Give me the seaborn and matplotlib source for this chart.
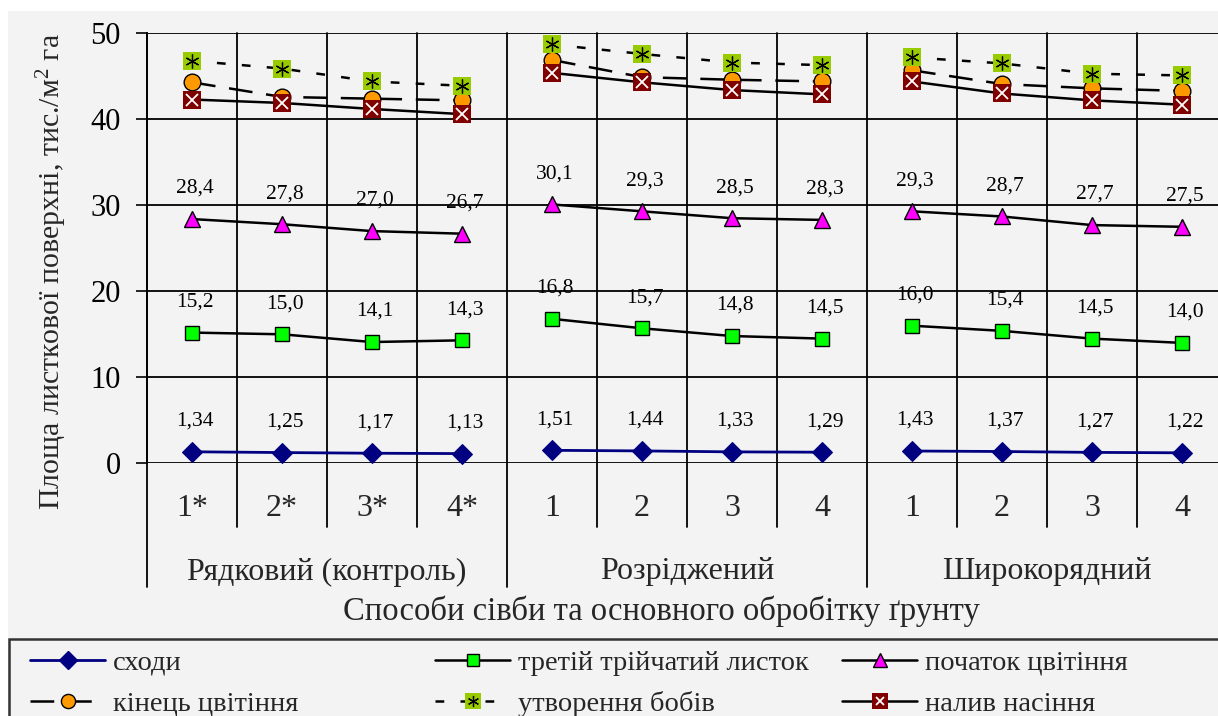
import numpy as np
import pandas as pd
import matplotlib
matplotlib.use("Agg")
import matplotlib.pyplot as plt
import seaborn as sns
from matplotlib.lines import Line2D
from matplotlib.patches import Rectangle
import matplotlib.transforms as mtransforms

groups = ["Рядковий (контроль)", "Розріджений", "Широкорядний"]
categories = ["1*", "2*", "3*", "4*", "1", "2", "3", "4", "1", "2", "3", "4"]

shoots = [1.34, 1.25, 1.17, 1.13, 1.51, 1.44, 1.33, 1.29, 1.43, 1.37, 1.27, 1.22]
third_leaf = [15.2, 15.0, 14.1, 14.3, 16.8, 15.7, 14.8, 14.5, 16.0, 15.4, 14.5, 14.0]
flower_start = [28.4, 27.8, 27.0, 26.7, 30.1, 29.3, 28.5, 28.3, 29.3, 28.7, 27.7, 27.5]
flower_end = [44.3, 42.6, 42.4, 42.2, 46.9, 44.9, 44.6, 44.4, 45.7, 44.1, 43.6, 43.3]
pods = [46.8, 45.9, 44.4, 43.9, 48.7, 47.6, 46.6, 46.3, 47.2, 46.5, 45.3, 45.1]
seed_fill = [42.3, 41.9, 41.2, 40.6, 45.4, 44.3, 43.4, 42.9, 44.4, 43.0, 42.2, 41.7]

series_names = ["сходи", "третій трійчатий листок", "початок цвітіння",
                "кінець цвітіння", "утворення бобів", "налив насіння"]
series_values = [shoots, third_leaf, flower_start, flower_end, pods, seed_fill]

rows = []
for name, vals in zip(series_names, series_values):
    for i, v in enumerate(vals):
        rows.append({"series": name, "pos": i, "group": i // 4, "value": v})
df = pd.DataFrame(rows)

sns.set_theme(style="white")
plt.rcParams["font.family"] = ["Liberation Serif", "DejaVu Serif"]
plt.rcParams["mathtext.fontset"] = "custom"
plt.rcParams["mathtext.rm"] = "Liberation Serif"
plt.rcParams["mathtext.it"] = "Liberation Serif:italic"

W, H = 1218, 716
fig = plt.figure(figsize=(W / 100, H / 100), dpi=100)
fig.patch.set_facecolor("white")
bg = "#f3f3f3"
fig.patches.append(Rectangle((8 / W, 0), 1, 1 - 11 / H, transform=fig.transFigure,
                             facecolor=bg, edgecolor="none", zorder=-10))

y0_px, y50_px = 463.3, 33.3
ax = fig.add_axes([147 / W, 1 - y0_px / H, 1080 / W, (y0_px - y50_px) / H])
ax.set_facecolor(bg)

styles = {
    "сходи": dict(color="#000080", marker="D", markersize=10.5, markerfacecolor="#000080",
                  markeredgecolor="#000080", linewidth=2, linestyle="-"),
    "третій трійчатий листок": dict(color="black", marker="s", markersize=10.5,
                                    markerfacecolor="#00ff00", markeredgecolor="black",
                                    markeredgewidth=1, linewidth=1.8, linestyle="-"),
    "початок цвітіння": dict(color="black", marker="^", markersize=11.5,
                             markerfacecolor="#ff00ff", markeredgecolor="black",
                             markeredgewidth=1, linewidth=1.8, linestyle="-"),
    "кінець цвітіння": dict(color="black", marker="o", markersize=12,
                            markerfacecolor="#ff9900", markeredgecolor="black",
                            markeredgewidth=1, linewidth=1.8, linestyle=(0, (9.5, 5.5))),
    "утворення бобів": dict(color="black", marker="s", markersize=13.5,
                            markerfacecolor="#99cc00", markeredgecolor="#99cc00",
                            markeredgewidth=0, linewidth=1.8, linestyle=(0, (3.5, 6.5))),
    "налив насіння": dict(color="black", marker="s", markersize=13.5,
                          markerfacecolor="#800000", markeredgecolor="#800000",
                          markeredgewidth=0, linewidth=1.8, linestyle="-"),
}
overlay = {
    "утворення бобів": dict(marker=(6, 2, 0), markersize=10, color="black", markeredgewidth=0.9),
    "налив насіння": dict(marker="x", markersize=8, color="white", markeredgewidth=1.3),
}

for k, name in enumerate(series_names):
    for g in range(3):
        sub = df[(df["series"] == name) & (df["group"] == g)]
        sns.lineplot(data=sub, x="pos", y="value", ax=ax, zorder=3 + k,
                     clip_on=False, **styles[name])
        if name in overlay:
            ax.plot(sub["pos"], sub["value"], linestyle="none", zorder=3 + k,
                    clip_on=False, **overlay[name])

# data labels for the lower three series
for name, vals, fmt in [("сходи", shoots, "{:.2f}"),
                        ("третій трійчатий листок", third_leaf, "{:.1f}"),
                        ("початок цвітіння", flower_start, "{:.1f}")]:
    for i, v in enumerate(vals):
        ax.annotate(fmt.format(v).replace(".", ","), (i, v), xytext=(2, 22),
                    textcoords="offset points", ha="center", va="center",
                    fontsize=15.5, color="black")

ax.set_xlim(-0.5, 11.5)
ax.set_ylim(0, 50)
ax.set_yticks([0, 10, 20, 30, 40, 50])
ax.set_xticks([])
ax.tick_params(axis="y", which="both", left=True, length=8, width=1.2, pad=11,
               labelsize=22, colors="black")
ax.grid(axis="y", color="black", linewidth=1.3)
ax.set_axisbelow(True)
for s in ["top", "right", "bottom"]:
    ax.spines[s].set_visible(False)
ax.spines["left"].set_color("black")
ax.spines["left"].set_linewidth(1.3)
ax.set_xlabel("")
ax.set_ylabel("")

trans = mtransforms.blended_transform_factory(ax.transData, ax.transAxes)
bot_cat = -(527 - y0_px) / (y0_px - y50_px)
bot_grp = -(587 - y0_px) / (y0_px - y50_px)
for b in np.arange(-0.5, 12, 1.0):
    low = bot_grp if (b + 0.5) % 4 == 0 else bot_cat
    ax.plot([b, b], [low, 1], color="black", linewidth=1.3, transform=trans,
            clip_on=False, zorder=1)

cat_y = -(509 - y0_px) / (y0_px - y50_px)
for i, c in enumerate(categories):
    ax.text(i, cat_y, c, transform=trans, ha="center", va="center", fontsize=23)
grp_y = -(572 - y0_px) / (y0_px - y50_px)
for g, gname in enumerate(groups):
    ax.text(g * 4 + 1.5, grp_y, gname, transform=trans, ha="center", va="center",
            fontsize=23)

fig.text(661 / W, 1 - 611 / H, "Способи сівби та основного обробітку ґрунту",
         ha="center", va="center", fontsize=23.5)
fig.text(52 / W, 1 - 272 / H, "Площа листкової поверхні, тис./м$^{2}$ га",
         rotation=90, ha="center", va="center", fontsize=21.5)

# legend frame
fig.patches.append(Rectangle((9 / W, -0.05), 1.0, 1 - 638.5 / H + 0.05,
                             transform=fig.transFigure, facecolor="none",
                             edgecolor="#333333", linewidth=1.8, zorder=5))


def handle(name):
    st = styles[name]
    base = Line2D([], [], color=st["color"], linewidth=st["linewidth"],
                  linestyle=st["linestyle"], marker=st["marker"],
                  markersize=st["markersize"] * 0.85,
                  markerfacecolor=st["markerfacecolor"],
                  markeredgecolor=st["markeredgecolor"],
                  markeredgewidth=st.get("markeredgewidth", 1))
    if name in overlay:
        ov = dict(overlay[name])
        ov["markersize"] = ov["markersize"] * 0.8
        top = Line2D([], [], linestyle="none", **ov)
        return (base, top)
    return base


columns = [(30, [0, 3]), (435, [1, 4]), (842, [2, 5])]
for xpx, idx in columns:
    leg = fig.legend([handle(series_names[j]) for j in idx],
                     [series_names[j] for j in idx],
                     loc="upper left", bbox_to_anchor=(xpx / W, 1 - 650 / H),
                     frameon=False, fontsize=20.5, handlelength=2.65,
                     handletextpad=0.25, borderpad=0, borderaxespad=0,
                     labelspacing=0.52)

fig.savefig("out.png", dpi=100, facecolor=fig.get_facecolor())
